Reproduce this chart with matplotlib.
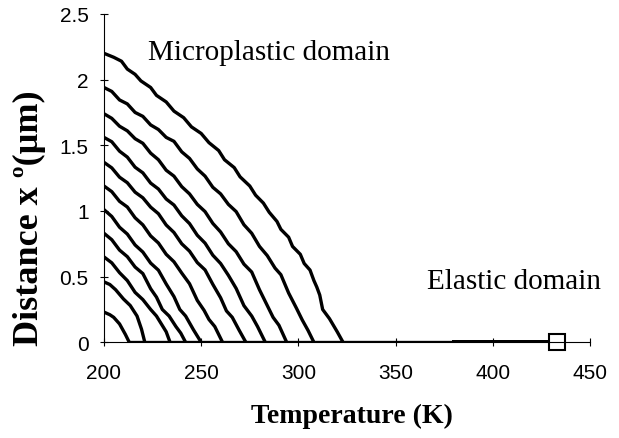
import matplotlib.pyplot as plt

# temperature (K) / distance x0 (um) for each curve
c1_T = [200, 205, 209, 212, 216, 219, 224, 227, 232, 236, 241, 245, 250, 254, 259, 262, 267, 270,
        275, 278, 282, 285, 289, 291, 295, 297, 301, 303, 306, 308, 309.5, 311, 312.5, 316, 320, 323]
c1_x = [2.20, 2.17, 2.14, 2.08, 2.04, 1.99, 1.94, 1.88, 1.83, 1.76, 1.71, 1.64, 1.59, 1.52, 1.46, 1.39, 1.33, 1.26,
        1.19, 1.12, 1.06, 0.99, 0.92, 0.86, 0.80, 0.73, 0.67, 0.60, 0.55, 0.47, 0.42, 0.36, 0.25, 0.18, 0.08, 0.0]
c2_T = [200, 204, 208, 212, 216, 220, 224, 228, 232, 236, 240, 244, 248, 252, 256, 260, 264, 268,
        272, 276, 280, 284, 288, 291, 295, 299, 302, 305, 308]
c2_x = [1.94, 1.91, 1.845, 1.815, 1.75, 1.72, 1.655, 1.62, 1.56, 1.53, 1.45, 1.40, 1.32, 1.265, 1.18, 1.13, 1.05, 0.995,
        0.895, 0.83, 0.73, 0.66, 0.565, 0.515, 0.375, 0.26, 0.17, 0.09, 0.0]
c3_T = [200, 204, 208, 212, 216, 220, 224, 228, 232, 236, 240, 244, 248, 252, 256, 260, 264, 268,
        272, 276, 280, 284, 287, 290, 294]
c3_x = [1.74, 1.705, 1.645, 1.61, 1.55, 1.515, 1.44, 1.39, 1.31, 1.265, 1.185, 1.13, 1.05, 0.995, 0.905, 0.84, 0.75, 0.69,
        0.595, 0.535, 0.40, 0.28, 0.19, 0.13, 0.0]
c4_T = [200, 204, 208, 212, 216, 220, 224, 228, 232, 236, 240, 244, 248, 252, 256, 260, 264, 268,
        272, 276, 279, 283]
c4_x = [1.56, 1.527, 1.455, 1.41, 1.333, 1.29, 1.212, 1.167, 1.091, 1.045, 0.963, 0.904, 0.815, 0.755, 0.663, 0.60, 0.51, 0.41,
        0.279, 0.20, 0.12, 0.0]
c5_T = [200, 204, 208, 212, 216, 220, 224, 228, 232, 236, 240, 244, 248, 252, 256, 260, 263, 266, 269.5, 273]
c5_x = [1.37, 1.328, 1.257, 1.215, 1.143, 1.10, 1.029, 0.979, 0.893, 0.836, 0.75, 0.694, 0.607, 0.551, 0.441, 0.339,
        0.239, 0.19, 0.093, 0.0]
c6_T = [200, 204, 208, 212, 216, 220, 224, 228, 232, 236, 240, 244, 248, 251.5, 254, 257, 261]
c6_x = [1.19, 1.147, 1.073, 1.03, 0.948, 0.894, 0.81, 0.756, 0.67, 0.613, 0.527, 0.446, 0.319, 0.243, 0.174, 0.12, 0.0]
c7_T = [200, 204, 208, 212, 216, 220, 224, 228, 232, 236, 239, 242, 246, 250]
c7_x = [1.01, 0.958, 0.876, 0.824, 0.741, 0.687, 0.603, 0.549, 0.444, 0.348, 0.25, 0.20, 0.096, 0.0]
c8_T = [200, 204, 208, 212, 216, 220, 224, 227, 230, 233.5, 237, 239.5, 242]
c8_x = [0.83, 0.781, 0.702, 0.652, 0.573, 0.523, 0.408, 0.344, 0.25, 0.20, 0.12, 0.07, 0.0]
c9_T = [200, 204, 208, 212, 216, 220, 224, 227, 229.5, 232, 234]
c9_x = [0.65, 0.605, 0.53, 0.47, 0.38, 0.325, 0.25, 0.20, 0.14, 0.08, 0.0]
c10_T = [200, 203, 206, 210, 213.5, 217, 219.3, 221]
c10_x = [0.46, 0.44, 0.40, 0.33, 0.28, 0.20, 0.10, 0.0]
c11_T = [200, 203, 205, 208, 211, 213]
c11_x = [0.23, 0.21, 0.19, 0.14, 0.06, 0.0]

curves = [(c1_T, c1_x), (c2_T, c2_x), (c3_T, c3_x), (c4_T, c4_x), (c5_T, c5_x), (c6_T, c6_x),
          (c7_T, c7_x), (c8_T, c8_x), (c9_T, c9_x), (c10_T, c10_x), (c11_T, c11_x)]

# elastic domain along x0 = 0
base_T = [213, 433]
base_x = [0, 0]
thick_T = [380, 433]
thick_x = [0, 0]
end_T = [433]
end_x = [0]

fig = plt.figure(figsize=(6.19, 4.39), dpi=100)
ax = fig.add_axes([0.168, 0.218, 0.785, 0.748])

for T, x in curves:
    ax.plot(T, x, color="black", linewidth=2.4, solid_joinstyle="round")

ax.plot(base_T, base_x, color="black", linewidth=2.4)
ax.plot(thick_T, thick_x, color="black", linewidth=3.6)
ax.plot(end_T, end_x, marker="s", markersize=12, markerfacecolor="white",
        markeredgecolor="black", markeredgewidth=1.5, linestyle="none", clip_on=False)

ax.set_xlim(200, 450)
ax.set_ylim(0, 2.5)
ax.set_xticks([200, 250, 300, 350, 400, 450])
ax.set_yticks([0, 0.5, 1, 1.5, 2, 2.5])
ax.set_yticklabels(["0", "0.5", "1", "1.5", "2", "2.5"])

for side in ["top", "right"]:
    ax.spines[side].set_visible(False)
for side in ["left", "bottom"]:
    ax.spines[side].set_linewidth(0.8)

ax.tick_params(axis="both", direction="inout", length=6, width=0.8, labelsize=15)
ax.tick_params(axis="x", pad=12)
ax.tick_params(axis="y", pad=8)
for lab in ax.get_xticklabels() + ax.get_yticklabels():
    lab.set_fontfamily("Liberation Sans")

ax.set_xlabel("Temperature (K)", fontsize=20, fontweight="bold", fontfamily="Liberation Serif")
ax.set_ylabel("Distance x º(µm)", fontsize=26, fontweight="bold", fontfamily="Liberation Serif")
ax.xaxis.set_label_coords(0.51, -0.185)
ax.yaxis.set_label_coords(-0.119, 0.38)

ax.text(222.5, 2.21, "Microplastic domain", fontsize=21, fontfamily="Liberation Serif",
        ha="left", va="center")
ax.text(366, 0.47, "Elastic domain", fontsize=21, fontfamily="Liberation Serif",
        ha="left", va="center")

fig.savefig("out.png", dpi=100)
